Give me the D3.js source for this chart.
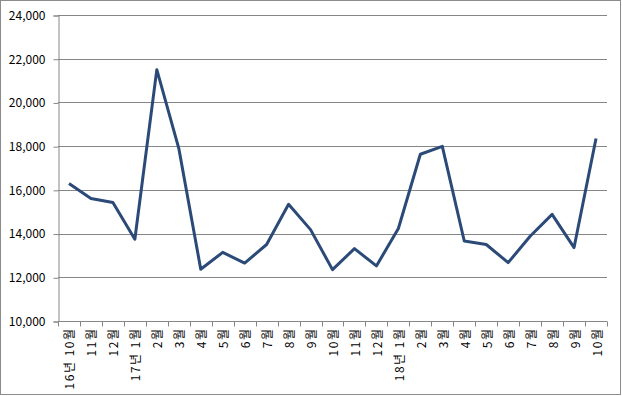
<!DOCTYPE html>
<html>
<head>
<meta charset="utf-8">
<script src="https://cdn.jsdelivr.net/npm/d3@7"></script>
<style>
  body { margin: 0; background: #fff; }
  svg text { font-family: "Noto Sans CJK KR", "DejaVu Sans", sans-serif; fill: #000; }
</style>
</head>
<body>
<svg id="drawing_region"></svg>
<script>
const months = ["16년 10월", "11월", "12월", "17년 1월", "2월", "3월", "4월", "5월", "6월", "7월", "8월", "9월",
                "10월", "11월", "12월", "18년 1월", "2월", "3월", "4월", "5월", "6월", "7월", "8월", "9월", "10월"];
const values = [16290, 15600, 15420, 13740, 21500, 17900, 12370, 13140, 12650, 13500, 15340, 14180,
                12350, 13310, 12520, 14230, 17630, 17990, 13660, 13500, 12670, 13880, 14880, 13360, 18350];
const yTicks = [10000, 12000, 14000, 16000, 18000, 20000, 22000, 24000];

const config = {
    width: 622,
    height: 396,
    margin: {top: 15, right: 15, bottom: 75, left: 58}
};

const svg = d3.select('#drawing_region')
    .attr('width', config.width)
    .attr('height', config.height);

// outer frame
svg.append('rect')
    .attr('x', 0.5).attr('y', 0.5)
    .attr('width', 620).attr('height', 394)
    .attr('fill', 'none')
    .attr('stroke', '#8c8c8c');

const inner_width = config.width - config.margin.left - config.margin.right;
const inner_height = config.height - config.margin.top - config.margin.bottom;

const chart = svg.append('g')
    .attr('transform', `translate(${config.margin.left}, ${config.margin.top})`);

const keys = months.map((m, i) => i);

const xscale = d3.scaleBand()
    .domain(keys)
    .range([0, inner_width]);

const yscale = d3.scaleLinear()
    .domain([10000, 24000])
    .range([inner_height, 0]);

// gridlines
chart.append('g')
    .selectAll('line')
    .data(yTicks)
    .join('line')
    .attr('x1', 0).attr('x2', inner_width)
    .attr('y1', d => Math.round(yscale(d)) + 0.5)
    .attr('y2', d => Math.round(yscale(d)) + 0.5)
    .attr('stroke', '#868686');

// y axis
const yaxis = d3.axisLeft(yscale)
    .tickValues(yTicks)
    .tickFormat(d3.format(','))
    .tickSize(5)
    .tickPadding(8);

const yaxis_group = chart.append('g')
    .attr('transform', 'translate(0.5, 0.5)')
    .call(yaxis);
yaxis_group.select('.domain').attr('stroke', '#868686');
yaxis_group.selectAll('.tick line').attr('stroke', '#868686');
yaxis_group.selectAll('text').attr('font-size', '12px');

// x axis: ticks at category boundaries
const xaxis_group = chart.append('g')
    .attr('transform', `translate(0, ${Math.round(inner_height) + 0.5})`);
xaxis_group.append('line')
    .attr('x1', 0).attr('x2', inner_width)
    .attr('stroke', '#868686');
xaxis_group.selectAll('.bt')
    .data(keys.concat([keys.length]))
    .join('line')
    .attr('class', 'bt')
    .attr('x1', d => Math.round(d < keys.length ? xscale(d) : inner_width) + 0.5)
    .attr('x2', d => Math.round(d < keys.length ? xscale(d) : inner_width) + 0.5)
    .attr('y1', 0).attr('y2', 5)
    .attr('stroke', '#868686');

xaxis_group.selectAll('.lbl')
    .data(keys)
    .join('text')
    .attr('class', 'lbl')
    .attr('font-size', '12px')
    .attr('letter-spacing', '1.5px')
    .attr('text-anchor', 'end')
    .attr('dominant-baseline', 'central')
    .attr('transform', d => `translate(${xscale(d) + xscale.bandwidth() / 2}, 6) rotate(-90)`)
    .text(d => months[d]);

// line
const line = d3.line()
    .x((d, i) => xscale(i) + xscale.bandwidth() / 2)
    .y(d => yscale(d));

chart.append('path')
    .datum(values)
    .attr('d', line)
    .attr('fill', 'none')
    .attr('stroke', '#2b4a78')
    .attr('stroke-width', 3)
    .attr('stroke-linejoin', 'round');
</script>
</body>
</html>
